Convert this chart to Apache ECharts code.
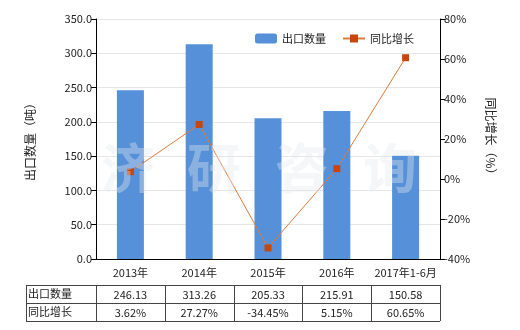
<!DOCTYPE html>
<html><head><meta charset="utf-8">
<script src="https://cdn.jsdelivr.net/npm/echarts@6/dist/echarts.min.js"></script>
<style>html,body{margin:0;padding:0;background:#fff}#c{width:520px;height:330px}</style>
</head><body><div id="c"></div>
<script>
var categories = ['2013年','2014年','2015年','2016年','2017年1-6月'];
var exportQty = [246.13, 313.26, 205.33, 215.91, 150.58];
var yoyGrowth = [3.62, 27.27, -34.45, 5.15, 60.65];
var qtyLabels = ['246.13','313.26','205.33','215.91','150.58'];
var yoyLabels = ['3.62%','27.27%','-34.45%','5.15%','60.65%'];
var seriesNames = ['出口数量','同比增长'];
var leftAxisName = '出口数量（吨）';
var rightAxisName = '同比增长（%）';
var watermark = ['济','研','咨','询'];

var FONT = '"Noto Sans CJK SC", "Microsoft YaHei", sans-serif';
var FS = 11;
var chart = echarts.init(document.getElementById('c'), null, {renderer:'canvas'});
var option = {
  animation:false,
  backgroundColor:'#fff',
  textStyle:{fontFamily:FONT},
  grid:{left:96, right:80, top:19, bottom:71, containLabel:false},
  legend:{
    top:28, left:250, itemGap:16, itemWidth:22, itemHeight:10,
    textStyle:{fontFamily:FONT, fontSize:FS, color:'#222'},
    data:[{name:seriesNames[0]},{name:seriesNames[1]}]
  },
  xAxis:{
    type:'category', data:categories,
    axisLine:{lineStyle:{color:'#000'}},
    axisTick:{alignWithLabel:true, length:5, lineStyle:{color:'#000'}},
    axisLabel:{fontFamily:FONT, fontSize:FS, color:'#222', margin:8, interval:0}
  },
  yAxis:[{
    type:'value', min:0, max:350, interval:50,
    name:leftAxisName, nameLocation:'middle', nameGap:60, nameRotate:90,
    nameTextStyle:{fontFamily:FONT, fontSize:12, color:'#222'},
    axisLine:{show:true, lineStyle:{color:'#000'}},
    axisTick:{show:true, length:5, lineStyle:{color:'#000'}},
    axisLabel:{fontFamily:FONT, fontSize:FS, color:'#222', margin:4, formatter:function(v){return v.toFixed(1);}},
    splitLine:{lineStyle:{color:'#e6e6e6'}}
  },{
    type:'value', min:-40, max:80, interval:20, position:'right',
    name:rightAxisName, nameLocation:'middle', nameGap:45, nameRotate:-90,
    nameTextStyle:{fontFamily:FONT, fontSize:12, color:'#222'},
    axisLine:{show:true, lineStyle:{color:'#000'}},
    axisTick:{show:true, length:5, lineStyle:{color:'#000'}},
    axisLabel:{fontFamily:FONT, fontSize:FS, color:'#222', margin:4, formatter:'{value}%'},
    splitLine:{show:false}
  }],
  series:[{
    name:seriesNames[0], type:'bar', data:exportQty, barWidth:27,
    itemStyle:{color:'#5590d8'}
  },{
    name:seriesNames[1], type:'line', yAxisIndex:1, data:yoyGrowth,
    symbol:'rect', symbolSize:7,
    lineStyle:{color:'#e07a3a', width:1},
    itemStyle:{color:'#c4470e'}
  }]
};
chart.setOption(option);

function buildGraphics(){
  var g = [];
  var centers = categories.map(function(c){ return chart.convertToPixel({xAxisIndex:0}, c); });
  var band = centers.length>1 ? centers[1]-centers[0] : 68;
  var tl = 26, tr = centers[centers.length-1]+band/2;
  var y0 = 285, y1 = 303, y2 = 321;
  var lineStyle = {stroke:'#444', lineWidth:1};
  [y0,y1,y2].forEach(function(y){
    g.push({type:'line', shape:{x1:tl, y1:y+0.5, x2:tr, y2:y+0.5}, style:lineStyle, silent:true});
  });
  var xs = [tl, centers[0]-band/2].concat(centers.map(function(c){return c+band/2;}));
  xs.forEach(function(x){
    g.push({type:'line', shape:{x1:Math.round(x)+0.5, y1:y0, x2:Math.round(x)+0.5, y2:y2}, style:lineStyle, silent:true});
  });
  g.push({type:'text', x:tl+2, y:(y0+y1)/2, style:{text:seriesNames[0], font:FS+'px '+FONT, fill:'#222', verticalAlign:'middle'}});
  g.push({type:'text', x:tl+2, y:(y1+y2)/2, style:{text:seriesNames[1], font:FS+'px '+FONT, fill:'#222', verticalAlign:'middle'}});
  centers.forEach(function(c,i){
    g.push({type:'text', x:c, y:(y0+y1)/2+1, style:{text:qtyLabels[i], font:FS+'px '+FONT, fill:'#222', align:'center', verticalAlign:'middle'}});
    g.push({type:'text', x:c, y:(y1+y2)/2+1, style:{text:yoyLabels[i], font:FS+'px '+FONT, fill:'#222', align:'center', verticalAlign:'middle'}});
  });
  var wx = [128, 214, 302, 390];
  watermark.forEach(function(ch,i){
    g.push({type:'text', x:wx[i], y:168, z:100, silent:true,
      style:{text:ch, font:'bold 54px '+FONT, fill:'rgba(228,231,236,0.38)', align:'center', verticalAlign:'middle'}});
  });
  chart.setOption({graphic:g});
}
buildGraphics();
</script>
</body></html>
